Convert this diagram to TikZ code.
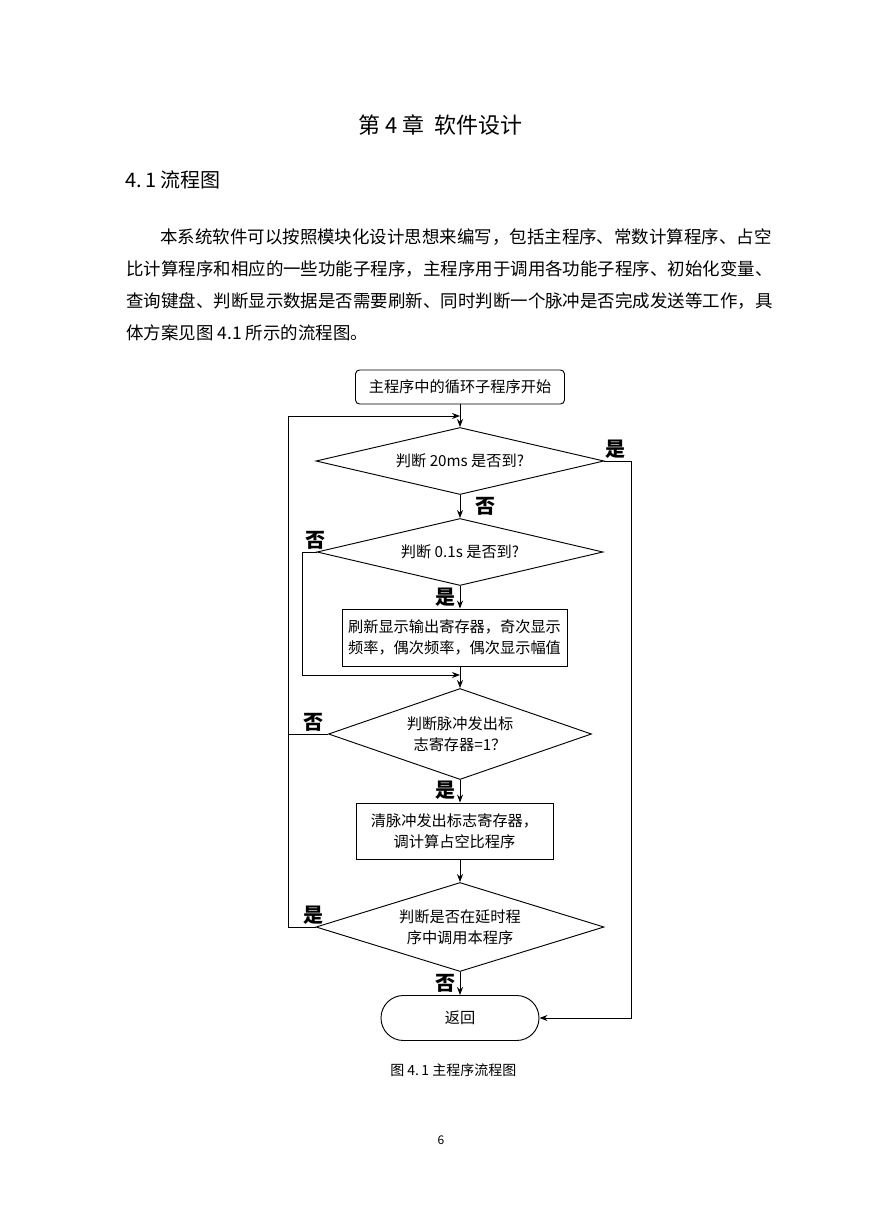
\documentclass[tikz,border=0pt]{standalone}
\usepackage{fontspec}
\setmainfont{Noto Sans CJK SC}
\usetikzlibrary{arrows.meta,shapes.geometric}

\begin{document}
\begin{tikzpicture}[x=0.75pt,y=-0.75pt]
    \tikzset{fc/.style={draw,line width=0.7pt,inner sep=0pt,align=center,font=\fontsize{11.4}{16}\selectfont},
      dec/.style={fc,diamond,aspect=3},
      yn/.style={font=\bfseries\fontsize{15}{15}\selectfont,inner sep=0pt},
      flow/.style={-{Stealth[length=6pt,width=4.5pt]},line width=0.7pt},
      ln/.style={anchor=west,inner sep=0pt,font=\fontsize{13.1}{13.1}\selectfont}}
    \useasboundingbox (0,0) rectangle (868,1228);
    \node[anchor=west,inner sep=0pt,font=\fontsize{16.5}{16.5}\selectfont] (title) at (358,125) {第 4 章\ \ 软件设计};
    \node[anchor=west,inner sep=0pt,font=\fontsize{15}{15}\selectfont] (sec) at (125,180) {4.\,1 流程图};
    \node[ln] (l1) at (160,237) {本系统软件可以按照模块化设计思想来编写，包括主程序、常数计算程序、占空};
    \node[ln] (l2) at (126,269) {比计算程序和相应的一些功能子程序，主程序用于调用各功能子程序、初始化变量、};
    \node[ln] (l3) at (126,301) {查询键盘、判断显示数据是否需要刷新、同时判断一个脉冲是否完成发送等工作，具};
    \node[ln] (l4) at (126,333) {体方案见图 4.1 所示的流程图。};
    \node[fc,rounded corners=3pt,minimum width=156.75pt,minimum height=25.5pt] (start) at (460,387) {主程序中的循环子程序开始};
    \node[dec,minimum width=216pt,minimum height=50.25pt] (d1) at (460,461) {判断 20ms 是否到?};
    \node[dec,minimum width=214.5pt,minimum height=50.25pt] (d2) at (460,552) {判断 0.1s 是否到?};
    \node[fc,minimum width=168.75pt,minimum height=42.75pt] (p1) at (454.5,637.5) {刷新显示输出寄存器，奇次显示\\频率，偶次频率，偶次显示幅值};
    \node[dec,minimum width=197.25pt,minimum height=68.25pt] (d3) at (460,734) {判断脉冲发出标\\志寄存器=1？};
    \node[fc,minimum width=147.75pt,minimum height=42pt] (p2) at (454.5,831) {清脉冲发出标志寄存器，\\调计算占空比程序};
    \node[dec,minimum width=216pt,minimum height=66.75pt] (d4) at (460,927) {判断是否在延时程\\序中调用本程序};
    \node[fc,rounded corners=16.8pt,minimum width=118.5pt,minimum height=33.75pt] (ret) at (460,1018) {返回};
    \coordinate (top) at (460,416);
    \coordinate (mid) at (460,675);
    \draw[flow] (start) -- (d1);
    \draw[flow] (d1) -- (d2);
    \draw[flow] (d2.south) -- (d2.south |- p1.north);
    \draw[flow] (p1.south -| d3.north) -- (d3.north);
    \draw[flow] (d3.south) -- (d3.south |- p2.north);
    \draw[flow] (p2.south -| d4.north) -- (d4.north);
    \draw[flow] (d4) -- (ret);
    \draw[flow] (d1.east) -- ++(27,0) |- (ret.east);
    \draw[flow] (d2.west) -- ++(-14,0) |- (mid);
    \draw[flow] (d4.west) -- ++(-27,0) coordinate (ol) |- (top);
    \draw[line width=0.7pt] (d3.west) -- (d3.west -| ol);
    \node[yn] (y1) at (615,449) {是};
    \node[yn] (n1) at (485,506) {否};
    \node[yn] (n2) at (315,540) {否};
    \node[yn] (y2) at (445,597) {是};
    \node[yn] (n3) at (313,722) {否};
    \node[yn] (y3) at (445,790) {是};
    \node[yn] (y4) at (313,915) {是};
    \node[yn] (n4) at (445,983) {否};
    \node[anchor=west,inner sep=0pt,font=\fontsize{10.5}{10.5}\selectfont] (cap) at (390,1070) {图 4.\,1 主程序流程图};
    \node[inner sep=0pt,font=\fontsize{9}{9}\selectfont] (pg) at (441,1140) {6};
  \end{tikzpicture}
\end{document}
